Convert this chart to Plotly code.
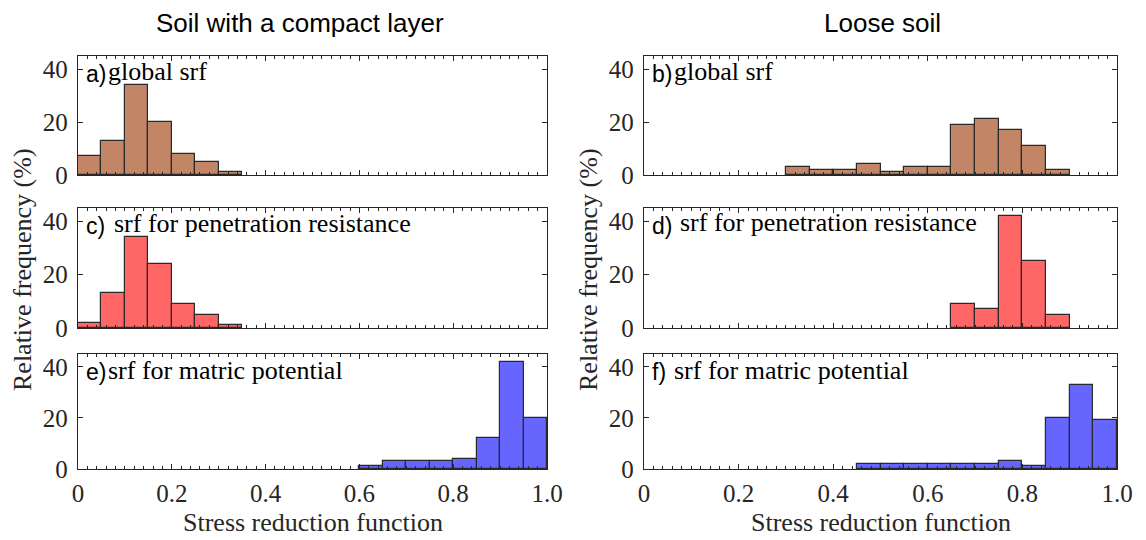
import plotly.graph_objects as go

# ---------------- data ----------------
BIN_WIDTH = 0.05
bin_left = [0.00, 0.05, 0.10, 0.15, 0.20, 0.25, 0.30, 0.35, 0.40, 0.45,
            0.50, 0.55, 0.60, 0.65, 0.70, 0.75, 0.80, 0.85, 0.90, 0.95]

# Soil with a compact layer (relative frequency, %)
compact_global = [7, 13, 34, 20, 8, 5, 1, 0, 0, 0, 0, 0, 0, 0, 0, 0, 0, 0, 0, 0]
compact_penres = [2, 13, 34, 24, 9, 5, 1, 0, 0, 0, 0, 0, 0, 0, 0, 0, 0, 0, 0, 0]
compact_matric = [0, 0, 0, 0, 0, 0, 0, 0, 0, 0, 0, 0, 1, 3, 3, 3, 4, 12, 42, 20]

# Loose soil
loose_global = [0, 0, 0, 0, 0, 0, 3, 2, 2, 4, 1, 3, 3, 19, 21, 17, 11, 2, 0, 0]
loose_penres = [0, 0, 0, 0, 0, 0, 0, 0, 0, 0, 0, 0, 0, 9, 7, 42, 25, 5, 0, 0]
loose_matric = [0, 0, 0, 0, 0, 0, 0, 0, 0, 2, 2, 2, 2, 2, 2, 3, 1, 20, 33, 19]

column_titles = ["Soil with a compact layer", "Loose soil"]
panel_letters = ["a)", "c)", "e)", "b)", "d)", "f)"]
panel_texts = ["global srf", "srf for penetration resistance", "srf for matric potential",
               "global srf", "srf for penetration resistance", "srf for matric potential"]
x_tick_vals = [0, 0.2, 0.4, 0.6, 0.8, 1.0]
x_tick_text = ["0", "0.2", "0.4", "0.6", "0.8", "1.0"]
y_tick_vals = [0, 20, 40]
x_title = "Stress reduction function"
y_title = "Relative frequency (%)"

# ---------------- style ----------------
W, H = 1146, 540
BROWN = "#C28566"
RED = "#FF6666"
BLUE = "#6666FF"
AX = "#262626"
SERIF = "Liberation Serif"
SANS = "Liberation Sans"

col_x = [(78, 547), (644, 1117)]             # pixel extents of columns
row_y = [(56, 175), (208, 328), (354, 469)]  # pixel extents of rows (top, bottom)
title_cx = [300, 882]
label_gap = [22, 28, 22, 22, 28, 22]
text_dy = [16, 16, 16, 16, 14, 16]

series = [compact_global, compact_penres, compact_matric,
          loose_global, loose_penres, loose_matric]
colors = [BROWN, RED, BLUE, BROWN, RED, BLUE]

fig = go.Figure()
layout = dict(width=W, height=H,
              margin=dict(l=0, r=0, t=0, b=0, pad=0, autoexpand=False),
              paper_bgcolor="white", plot_bgcolor="white", showlegend=False,
              bargap=0)
annotations = []

for k in range(6):
    col, row = divmod(k, 3)
    idx = k + 1
    xa = "x" if idx == 1 else f"x{idx}"
    ya = "y" if idx == 1 else f"y{idx}"
    vals = series[k]
    xs = [b + BIN_WIDTH / 2 for b, v in zip(bin_left, vals) if v > 0]
    ys = [v for v in vals if v > 0]
    fig.add_trace(go.Bar(x=xs, y=ys, width=BIN_WIDTH, xaxis=xa, yaxis=ya,
                         marker=dict(color=colors[k],
                                     line=dict(color="#2a2a2a", width=1.2))))
    x0, x1 = col_x[col]
    yt, yb = row_y[row]
    bottom = row == 2
    layout["xaxis" if idx == 1 else f"xaxis{idx}"] = dict(
        domain=[x0 / W, x1 / W], range=[0, 1], anchor=ya,
        tickvals=x_tick_vals, ticktext=x_tick_text, showticklabels=bottom,
        ticks="inside", ticklen=5, tickwidth=1, tickcolor=AX,
        minor=dict(dtick=0.02, tick0=0, ticks="inside", ticklen=3,
                   tickwidth=1, tickcolor=AX),
        showline=True, linecolor=AX, linewidth=1.3, mirror="allticks",
        showgrid=False, zeroline=False, fixedrange=True, automargin=False,
        tickfont=dict(family=SERIF, size=25, color=AX),
        ticklabelstandoff=2)
    layout["yaxis" if idx == 1 else f"yaxis{idx}"] = dict(
        domain=[1 - yb / H, 1 - yt / H], range=[0, 45], anchor=xa,
        tickvals=y_tick_vals, ticks="inside", ticklen=5, tickwidth=1,
        tickcolor=AX, showline=True, linecolor=AX, linewidth=1.3,
        mirror="allticks", showgrid=False, zeroline=False, fixedrange=True,
        automargin=False,
        tickfont=dict(family=SERIF, size=25, color=AX), ticklabelstandoff=4)

    # panel labels
    lx = x0 + 6
    annotations.append(dict(text=panel_letters[k], x=lx / W, y=1 - (yt + 18) / H,
                            xref="paper", yref="paper", xanchor="left",
                            yanchor="middle", showarrow=False,
                            font=dict(family=SANS, size=23, color="black")))
    tx = lx + label_gap[k]
    annotations.append(dict(text=panel_texts[k], x=tx / W, y=1 - (yt + text_dy[k]) / H,
                            xref="paper", yref="paper", xanchor="left",
                            yanchor="middle", showarrow=False,
                            font=dict(family=SERIF, size=26, color="black")))

# column titles, axis titles
for col, t in enumerate(column_titles):
    x0, x1 = col_x[col]
    annotations.append(dict(text=t, x=title_cx[col] / W, y=1 - 23 / H,
                            xref="paper", yref="paper", xanchor="center",
                            yanchor="middle", showarrow=False,
                            font=dict(family=SANS, size=26, color="black")))
    annotations.append(dict(text=x_title, x=(x0 + x1) / 2 / W, y=1 - 522 / H,
                            xref="paper", yref="paper", xanchor="center",
                            yanchor="middle", showarrow=False,
                            font=dict(family=SERIF, size=26, color=AX)))
    ytx = 22 if col == 0 else 588
    annotations.append(dict(text=y_title, x=ytx / W, y=1 - 270 / H,
                            xref="paper", yref="paper", xanchor="center",
                            yanchor="middle", showarrow=False, textangle=-90,
                            font=dict(family=SERIF, size=26, color=AX)))

layout["annotations"] = annotations
fig.update_layout(**layout)
fig.write_html("out.html")
